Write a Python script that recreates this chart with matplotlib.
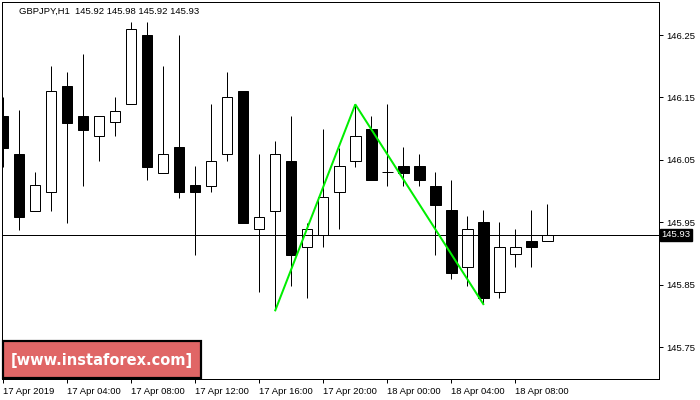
import matplotlib
matplotlib.use("Agg")
import matplotlib.pyplot as plt
from matplotlib import font_manager
from matplotlib.font_manager import FontProperties
from matplotlib.patches import Rectangle
import matplotlib.transforms as mtransforms

# ---- data ----
x_tick_labels = ["17 Apr 2019", "17 Apr 04:00", "17 Apr 08:00", "17 Apr 12:00",
                 "17 Apr 16:00", "17 Apr 20:00", "18 Apr 00:00", "18 Apr 04:00",
                 "18 Apr 08:00"]
opens = [146.120, 146.059, 145.968, 145.999, 146.169, 146.120, 146.089, 146.110,
         146.139, 146.250, 146.029, 146.071, 146.010, 146.009, 146.059, 146.160,
         145.939, 145.968, 146.049, 145.910, 145.929, 145.999, 146.049, 146.099,
         146.030, 146.040, 146.040, 146.009, 145.969, 145.879, 145.950, 145.839,
         145.899, 145.920, 145.920]
highs = [146.151, 146.130, 146.030, 146.200, 146.191, 146.220, 146.120, 146.151,
         146.271, 146.271, 146.200, 146.250, 146.040, 146.139, 146.191, 146.160,
         146.059, 146.080, 146.120, 145.949, 146.099, 146.069, 146.139, 146.120,
         146.139, 146.071, 146.059, 146.030, 146.018, 145.960, 145.970, 145.950,
         145.939, 145.970, 145.980]
lows = [146.039, 145.938, 145.968, 145.968, 145.949, 146.009, 146.049, 146.089,
        146.139, 146.018, 146.029, 145.989, 145.897, 145.999, 146.049, 145.949,
        145.839, 145.809, 145.848, 145.829, 145.910, 145.939, 146.039, 146.018,
        146.009, 146.009, 146.009, 145.897, 145.859, 145.848, 145.820, 145.829,
        145.879, 145.879, 145.920]
closes = [146.069, 145.959, 146.010, 146.160, 146.109, 146.098, 146.120, 146.129,
          146.259, 146.039, 146.059, 145.999, 145.999, 146.049, 146.150, 145.949,
          145.959, 146.059, 145.897, 145.939, 145.990, 146.040, 146.089, 146.018,
          146.030, 146.029, 146.018, 145.978, 145.869, 145.939, 145.829, 145.910,
          145.910, 145.910, 145.930]
pattern_idx = [17, 22, 30]
pattern_price = [145.809, 146.139, 145.819]
current_price = 145.93
y_ticks = [145.75, 145.85, 145.95, 146.05, 146.15, 146.25]
title_text = "GBPJPY,H1  145.92 145.98 145.92 145.93"
watermark = "[www.instaforex.com]"

# ---- fonts ----
avail = {f.name for f in font_manager.fontManager.ttflist}
base_font = "Liberation Sans" if "Liberation Sans" in avail else "DejaVu Sans"
plt.rcParams["font.family"] = base_font

wm_props = dict(family=base_font, fontweight="bold")
if "Liberation Sans Narrow" in avail:
    wm_props = dict(family="Liberation Sans Narrow", fontweight="bold")
else:
    try:
        fp = FontProperties(family="DejaVu Sans", weight="bold", stretch="condensed")
        path = font_manager.findfont(fp, fallback_to_default=False)
        if "Condensed" in path:
            wm_props = dict(family="DejaVu Sans", fontweight="bold",
                            fontstretch="condensed")
    except Exception:
        pass

fig = plt.figure(figsize=(7, 4), dpi=100)
ax = fig.add_axes([2 / 700, 1 - 379 / 400, 657 / 700, 377 / 400])

px = 1 * 72 / 100.0  # one pixel in points
n = len(opens)
xs = list(range(n))
width = 0.65

for i in xs:
    o, h, l, c = opens[i], highs[i], lows[i], closes[i]
    ax.vlines(i, l, h, color="black", linewidth=px, zorder=2)
    if abs(c - o) < 0.002:
        ax.hlines(o, i - width / 2, i + width / 2, color="black", linewidth=px, zorder=3)
    else:
        face = "black" if c < o else "white"
        ax.bar(i, abs(c - o), bottom=min(o, c), width=width, color=face,
               edgecolor="black", linewidth=px, zorder=3)

# current price line
ax.axhline(current_price, color="black", linewidth=px, zorder=4)

# pattern line
ax.plot(pattern_idx, pattern_price, color="#00ee00", linewidth=2 * px, zorder=5,
        solid_joinstyle="miter")

ax.set_xlim(-0.08, 40.98)
ax.set_ylim(145.699, 146.303)

fs = 6.8
ax.yaxis.tick_right()
ax.set_yticks(y_ticks)
ax.set_yticklabels([f"{v:.2f}" for v in y_ticks])
ax.set_xticks(list(range(0, 4 * len(x_tick_labels), 4)))
ax.set_xticklabels(x_tick_labels, ha="left")
ax.tick_params(axis="both", labelsize=fs, length=3, width=px, color="black",
               direction="out", pad=2)
ax.tick_params(axis="x", pad=3)
for s in ax.spines.values():
    s.set_linewidth(px)
    s.set_color("black")

# price label
trans = mtransforms.blended_transform_factory(ax.transAxes, ax.transData)
ax.text(1.004, current_price, f"{current_price:.2f}", transform=trans,
        ha="left", va="center", color="white", fontsize=fs,
        bbox=dict(facecolor="black", edgecolor="black", pad=1.0), clip_on=False)

# title
ax.text(17 / 657, 1 - 9 / 377, title_text, transform=ax.transAxes,
        ha="left", va="center", fontsize=fs, color="black")

# watermark
rect = Rectangle((3 / 700, 1 - 378 / 400), 198 / 700, 37 / 400,
                 transform=fig.transFigure, facecolor="#e06666",
                 edgecolor="black", linewidth=2.2 * px, zorder=10)
fig.add_artist(rect)
wt = fig.text(102 / 700, 1 - 361 / 400, watermark, ha="center", va="center",
              color="white", fontsize=16, zorder=11, **wm_props)
fig.canvas.draw()
bb = wt.get_window_extent()
target_w = 183.0
wt.set_fontsize(16 * target_w / bb.width)

fig.savefig("out.png", dpi=100)
